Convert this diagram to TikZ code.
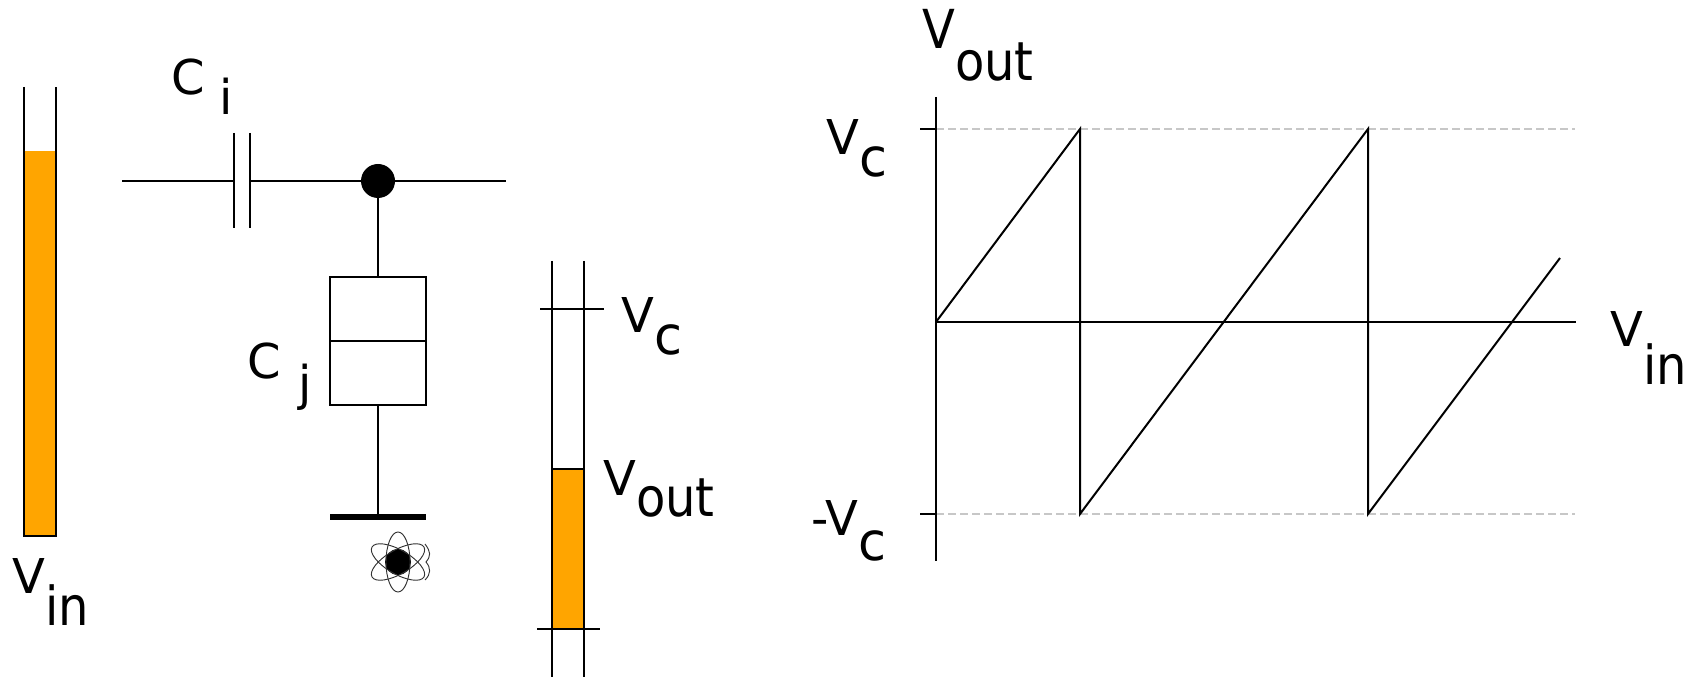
\documentclass[tikz,border=0pt]{standalone}
\usepackage{fontspec}
\setmainfont{DejaVu Sans}
\usetikzlibrary{positioning, calc}
\definecolor{fillorange}{HTML}{FFA500}
\newcommand{\lowsub}[3][24pt]{#2\raisebox{-#1}{\scalebox{1}[1.12]{#3}}}
\newcommand{\lowsubc}[2][16.5pt]{#2\raisebox{-#1}{\scalebox{1.06}[1.11]{c}}}
\newcommand{\gapsub}[4]{#3\hspace{#1}\raisebox{-#2}{#4}}

\begin{document}
\begin{tikzpicture}[
    x=0.75pt, y=-0.75pt,
    wire/.style={draw, line width=1.5pt},
    level/.style={fill=fillorange, draw=none},
    cell/.style={rectangle, draw, line width=1.5pt, minimum width=72pt, minimum height=48pt, inner sep=0pt, outer sep=0pt},
    dot/.style={circle, fill=black, inner sep=0pt},
    lab/.style={anchor=base west, inner sep=0pt, font=\fontsize{36}{40}\selectfont},
    guide/.style={draw=black!22, line width=1.2pt, dash pattern=on 6pt off 3pt},
    orbit/.style={draw=black!80, line width=0.7pt}
]
\useasboundingbox (0,0) rectangle (1697,677);

% input tube
\coordinate (intopl) at (24,87);
\coordinate (intopr) at (56,87);
\coordinate (inbotl) at (24,536);
\coordinate (inbotr) at (56,536);
\fill [level] (24,151) rectangle (inbotr);
\path [wire] (intopl) -- (inbotl) -- (inbotr) -- (intopr);
\node [lab] (vin) at (12,593) {\lowsub{V}{in}};

% circuit
\coordinate (wirel) at (122,181);
\coordinate (wirer) at (506,181);
\coordinate (platea) at (234,181);
\coordinate (plateb) at (250,181);
\node [dot, minimum size=25.5pt] (island) at (378,181) {};
\path [wire] (wirel) -- (platea);
\path [wire] (plateb) -- (island) -- (wirer);
\path [wire] (234,133) -- (234,228);
\path [wire] (250,133) -- (250,228);
\node [lab] (ci) at (171,95) {\gapsub{11pt}{15pt}{C}{i}};

\node [cell] (cjtop) at (378,309) {};
\node [cell, below=0pt of cjtop] (cjbot) {};
\path [wire] (island) -- (cjtop);
\coordinate (ground) at (378,517);
\path [wire] (cjbot) -- (ground);
\path [draw, line width=4.5pt] (330,517) -- (426,517);
\node [lab] (cj) at (247,379) {\gapsub{13pt}{16pt}{C}{j}};

% electron
\node [dot, minimum size=19.5pt] (electron) at (398,562) {};
\foreach \ang in {0,60,120}
  \draw [orbit] (electron) ellipse [x radius=12, y radius=30, rotate=\ang];
\draw [orbit] (425,544) .. controls (431,552) and (431,556) .. (426,562) .. controls (431,568) and (431,574) .. (425,580);

% output tube
\coordinate (outtopl) at (552,261);
\coordinate (outtopr) at (584,261);
\coordinate (outbotl) at (552,677);
\coordinate (outbotr) at (584,677);
\fill [level] (552,469) rectangle (584,629);
\path [wire] (outtopl) -- (outbotl);
\path [wire] (outtopr) -- (outbotr);
\path [wire] (552,469) -- (584,469);
\path [wire] (540,309) -- (604,309);
\path [wire] (537,629) -- (600,629);
\node [lab] (vcleft) at (621,333) {\lowsubc{V}};
\node [lab] (voutleft) at (603,495) {\lowsub[16.5pt]{V}{out}};

% transfer curve
\coordinate (origin) at (936,322);
\coordinate (axtop) at (936,97);
\coordinate (axbot) at (936,561);
\coordinate (axright) at (1576,322);
\path [guide] (936,129) -- (1575,129);
\path [guide] (936,514) -- (1575,514);
\path [wire] (axtop) -- (axbot);
\path [wire] (origin) -- (axright);
\path [wire] (920,129) -- (936,129);
\path [wire] (920,514) -- (936,514);
\path [wire] (origin) -- (1080,129) -- (1080,514) -- (1368,129) -- (1368,514) -- (1560,258);
\node [lab] (vout) at (922,49) {\lowsub{\scalebox{1}[1.12]{V}}{out}};
\node [lab] (vc) at (826,155) {\lowsubc{V}};
\node [lab] (mvc) at (811,535) {\lowsubc[19pt]{-V}};
\node [lab] (vinr) at (1610,347) {\lowsub[28.5pt]{V}{in}};
\end{tikzpicture}
\end{document}
